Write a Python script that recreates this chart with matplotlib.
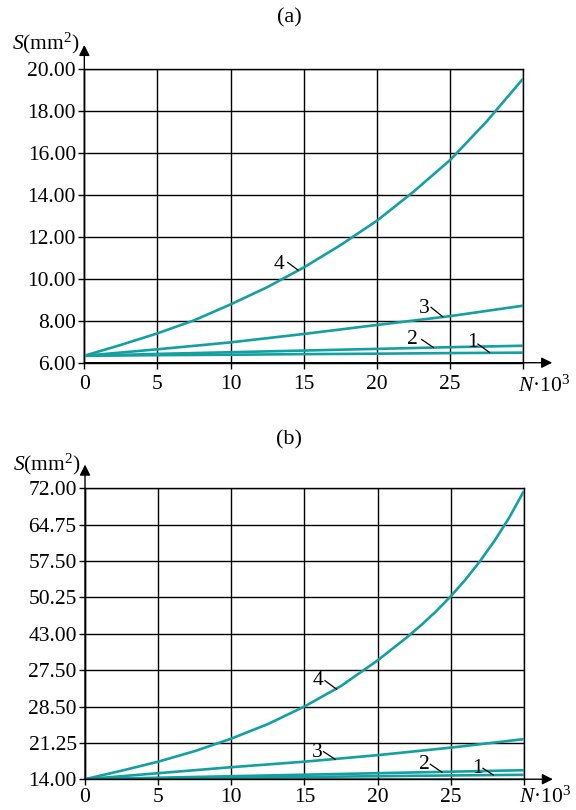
import matplotlib
matplotlib.use("Agg")
import matplotlib.pyplot as plt

plt.rcParams['font.family'] = 'Liberation Serif'
plt.rcParams['mathtext.fontset'] = 'custom'
plt.rcParams['mathtext.rm'] = 'Liberation Serif'
plt.rcParams['mathtext.it'] = 'Liberation Serif:italic'

TEAL = '#14a0a0'
FS = 15.5

# N (x1000) sampling positions
n_coarse = [0, 5, 10, 15, 20, 25, 30]
n_a4 = [0, 2.5, 5, 7.5, 10, 12.5, 15, 17.5, 20, 22.5, 25, 27.5, 30]
n_b4 = [0, 2.5, 5, 7.5, 10, 12.5, 15, 17.5, 20, 21, 22, 23, 24, 25, 26, 27, 28, 29, 30]

# panel (a)
a_curve4 = [6.33, 6.85, 7.40, 8.02, 8.78, 9.60, 10.54, 11.60, 12.77, 14.15, 15.66, 17.50, 19.55]
a_curve3 = [6.33, 6.64, 6.97, 7.37, 7.80, 8.22, 8.72]
a_curve2 = [6.33, 6.42, 6.50, 6.58, 6.66, 6.74, 6.81]
a_curve1 = [6.33, 6.36, 6.38, 6.41, 6.43, 6.46, 6.48]
a_yticks = [6, 8, 10, 12, 14, 16, 18, 20]
a_ylabels = ['6.00', '8.00', '10.00', '12.00', '14.00', '16.00', '18.00', '20.00']

# panel (b)
b_curve4 = [14.0, 15.7, 17.5, 19.6, 22.1, 25.0, 28.5, 32.6, 37.7, 40.0, 42.3,
            44.8, 47.5, 50.5, 53.8, 57.5, 61.6, 66.2, 71.5]
b_curve3 = [14.0, 15.2, 16.4, 17.5, 18.8, 20.3, 22.0]
b_curve2 = [14.0, 14.3, 14.6, 14.9, 15.2, 15.5, 15.8]
b_curve1 = [14.0, 14.15, 14.3, 14.45, 14.6, 14.75, 14.88]
b_yticks = [14.0, 21.25, 28.5, 35.75, 43.0, 50.25, 57.5, 64.75, 72.0]
b_ylabels = ['14.00', '21.25', '28.50', '27.50', '43.00', '50.25', '57.50', '64.75', '72.00']

xticks = [0, 5, 10, 15, 20, 25, 30]
xlabels = ['0', '5', '10', '15', '20', '25', '']

# curve labels: (text, x, y, leader start, leader end)
a_marks = [('4', 13.3, 10.7, (13.9, 10.78), (14.6, 10.42)),
           ('3', 23.2, 8.59, (23.7, 8.64), (24.5, 8.19)),
           ('2', 22.4, 7.11, (23.05, 7.11), (23.85, 6.73)),
           ('1', 26.5, 6.95, (26.9, 6.89), (27.7, 6.49))]
b_marks = [('4', 15.9, 33.66, (16.4, 33.66), (17.2, 31.94)),
           ('3', 15.9, 19.36, (16.3, 19.5), (17.1, 17.97)),
           ('2', 23.2, 16.98, (23.6, 16.98), (24.4, 15.39)),
           ('1', 26.8, 16.18, (27.2, 16.18), (27.9, 14.86))]

fig = plt.figure(figsize=(5.76, 8.10), dpi=100)
ax_a = fig.add_axes([0.1464, 0.5522, 0.762, 0.3626])
ax_b = fig.add_axes([0.1476, 0.0380, 0.762, 0.3590])


def draw_panel(ax, curves, ylim, yticks, ylabels, marks, ylab_y, nlab_y, xpad):
    for xs, ys in curves:
        ax.plot(xs, ys, color=TEAL, lw=1.9, solid_capstyle='butt', zorder=3)
    ax.set_xlim(0, 30)
    ax.set_ylim(*ylim)
    ax.set_xticks(xticks)
    ax.set_xticklabels(xlabels)
    ax.set_yticks(yticks)
    ax.set_yticklabels(ylabels)
    ax.grid(True, color='black', lw=1.0)
    for s in ax.spines.values():
        s.set_linewidth(1.0)
    ax.tick_params(direction='out', length=4, width=1.0, labelsize=FS, pad=2)
    ax.tick_params(axis='x', pad=xpad)
    # axis arrows
    ax.annotate('', xy=(0, 1.082), xytext=(0, 0), xycoords='axes fraction',
                arrowprops=dict(arrowstyle='-|>', color='black', lw=1.0,
                                mutation_scale=16, shrinkA=0, shrinkB=0))
    ax.annotate('', xy=(1.066, 0), xytext=(0, 0), xycoords='axes fraction',
                arrowprops=dict(arrowstyle='-|>', color='black', lw=1.0,
                                mutation_scale=16, shrinkA=0, shrinkB=0))
    for lab, tx, ty, p0, p1 in marks:
        ax.text(tx, ty, lab, fontsize=FS, ha='center', va='center', zorder=4)
        ax.plot([p0[0], p1[0]], [p0[1], p1[1]], color='black', lw=0.9, zorder=4)
    ax.text(-0.01, ylab_y, r'$S$(mm$^2$)', transform=ax.transAxes,
            fontsize=FS, ha='right', va='center')
    ax.text(0.988, nlab_y, r'$N$·10$^3$', transform=ax.transAxes,
            fontsize=FS, ha='left', va='baseline')


draw_panel(ax_a,
           [(n_a4, a_curve4), (n_coarse, a_curve3), (n_coarse, a_curve2), (n_coarse, a_curve1)],
           (6, 20), a_yticks, a_ylabels, a_marks, 1.0885, -0.100, 5)
draw_panel(ax_b,
           [(n_b4, b_curve4), (n_coarse, b_curve3), (n_coarse, b_curve2), (n_coarse, b_curve1)],
           (14, 72), b_yticks, b_ylabels, b_marks, 1.082, -0.080, 2)

fig.text(289 / 576, 1 - 18 / 810, '(a)', fontsize=16, ha='center', va='center')
fig.text(289 / 576, 1 - 440 / 810, '(b)', fontsize=16, ha='center', va='center')

fig.savefig('out.png', dpi=100)
